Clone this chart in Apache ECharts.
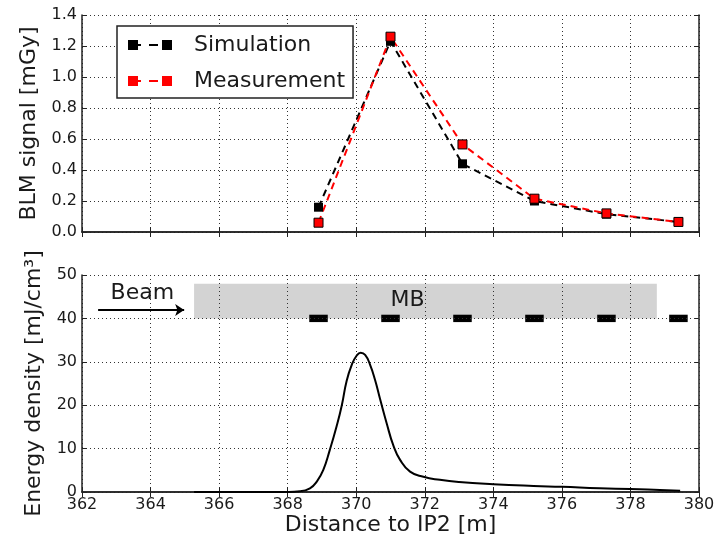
<!DOCTYPE html>
<html>
<head>
<meta charset="utf-8">
<script src="https://cdn.jsdelivr.net/npm/echarts@6/dist/echarts.min.js"></script>
<style>
html,body{margin:0;padding:0;background:#fff;}
#chart{width:723px;height:537px;}
</style>
</head>
<body>
<div id="chart"></div>
<script>
// ---- data ----
const blmPositions = [368.9, 371.0, 373.1, 375.2, 377.3, 379.4];
const simulation   = [0.16, 1.23, 0.44, 0.20, 0.115, 0.065];
const measurement  = [0.06, 1.26, 0.565, 0.215, 0.12, 0.065];

const energyX = [365.27, 367, 368, 368.36, 368.65, 368.85, 369.04, 369.23, 369.43, 369.58, 369.72, 369.87, 370.01, 370.13, 370.26, 370.40, 370.55, 370.69, 370.89, 371.08, 371.28, 371.57, 371.96, 372.44, 373.0, 374.0, 375.17, 376.0, 377.1, 378.0, 378.86, 379.45];
const energyY = [0, 0, 0.02, 0.15, 0.85, 2.4, 5.1, 9.7, 15.2, 20, 25.6, 29.3, 31.4, 32.1, 31.6, 29.4, 25.8, 21.6, 15.8, 10.8, 7.4, 4.7, 3.5, 2.8, 2.3, 1.8, 1.4, 1.2, 0.85, 0.7, 0.46, 0.3];

const mbRange = [365.27, 378.77];      // magnet extent (x)
const mbLevels = [40, 48];             // magnet box (y)
const blmBarHalfWidth = 0.27;
const blmBarLevels = [39.15, 40.85];
const beamArrow = [[362.47, 41.93], [364.98, 41.93]];
const annotationNames = ['Beam', 'MB'];
const annotationCoords = [[363.76, 45.85], [371.5, 44.2]];

const xTicks = [362, 380, 2];
const blmTicks = [0, 1.4, 0.2];
const energyTicks = [0, 50, 10];
const seriesNames = ['Simulation', 'Measurement'];

// ---- chart ----
const FONT = 'DejaVu Sans';
const TXT = '#1a1a1a';
const chart = echarts.init(document.getElementById('chart'));

const gridLine = {show: true, lineStyle: {color: '#333', type: [1, 3], width: 1}};
const frameLine = {show: true, lineStyle: {color: '#222', width: 1.5}};
const inTick = {show: true, inside: true, length: 5, lineStyle: {color: '#222', width: 1}};

function xAx(grid, pos, labels, split, extra) {
  return Object.assign({
    type: 'value', gridIndex: grid, position: pos,
    min: xTicks[0], max: xTicks[1], interval: xTicks[2],
    axisLine: frameLine, axisTick: inTick,
    axisLabel: {show: labels, fontFamily: FONT, fontSize: 16, color: TXT, margin: 5},
    splitLine: split ? gridLine : {show: false}
  }, extra || {});
}
function yAx(grid, pos, t, labels, split, extra) {
  return Object.assign({
    type: 'value', gridIndex: grid, position: pos,
    min: t[0], max: t[1], interval: t[2],
    axisLine: frameLine, axisTick: inTick,
    axisLabel: {show: labels, fontFamily: FONT, fontSize: 16, color: TXT, margin: 5,
      formatter: v => (t[2] < 1 ? v.toFixed(1) : String(v))},
    splitLine: split ? gridLine : {show: false}
  }, extra || {});
}

const legendIcon = 'path://M0,0H10V10H0Z M10,4H13V6H10Z M21,4H30V6H21Z M34,0H44V10H34Z';

const option = {
  animation: false,
  backgroundColor: '#fff',
  textStyle: {fontFamily: FONT},
  grid: [
    {left: 82, right: 24, top: 15, height: 217, show: false},
    {left: 82, right: 24, top: 275, height: 217, show: false}
  ],
  legend: {
    left: 117, top: 26, orient: 'vertical',
    padding: [7, 8, 5, 11], itemGap: 12,
    itemWidth: 44, itemHeight: 10, icon: legendIcon,
    borderColor: '#222', borderWidth: 1.5, backgroundColor: '#fff',
    textStyle: {fontFamily: FONT, fontSize: 22, color: TXT, padding: [0, 0, 0, 17], lineHeight: 24},
    data: [
      {name: seriesNames[0]},
      {name: seriesNames[1], itemStyle: {borderWidth: 0}}
    ],
    z: 10
  },
  xAxis: [
    xAx(0, 'bottom', false, true),
    xAx(0, 'top', false, false),
    xAx(1, 'bottom', true, true, {
      z: 3,
      name: 'Distance to IP2 [m]', nameLocation: 'middle', nameGap: 22,
      nameTextStyle: {fontFamily: FONT, fontSize: 22, color: TXT}
    }),
    xAx(1, 'top', false, false)
  ],
  yAxis: [
    yAx(0, 'left', blmTicks, true, true, {
      name: 'BLM signal [mGy]', nameLocation: 'middle', nameGap: 35,
      nameTextStyle: {fontFamily: FONT, fontSize: 22, color: TXT}
    }),
    yAx(0, 'right', blmTicks, false, false),
    yAx(1, 'left', energyTicks, true, true, {
      z: 3,
      name: 'Energy density [mJ/cm³]', nameLocation: 'middle', nameGap: 34,
      nameTextStyle: {fontFamily: FONT, fontSize: 22, color: TXT}
    }),
    yAx(1, 'right', energyTicks, false, false)
  ],
  series: [
    {
      name: seriesNames[0], type: 'line', xAxisIndex: 0, yAxisIndex: 0,
      data: blmPositions.map((x, i) => [x, simulation[i]]),
      symbol: 'rect', symbolSize: 9,
      itemStyle: {color: '#000'},
      lineStyle: {color: '#000', width: 2, type: [7, 5]}
    },
    {
      name: seriesNames[1], type: 'line', xAxisIndex: 0, yAxisIndex: 0,
      data: blmPositions.map((x, i) => [x, measurement[i]]),
      symbol: 'rect', symbolSize: 9,
      itemStyle: {color: '#ff0000', borderColor: '#000', borderWidth: 1},
      lineStyle: {color: '#ff0000', width: 2, type: [7, 5]}
    },
    {
      name: 'Energy density', type: 'line', xAxisIndex: 2, yAxisIndex: 2,
      data: energyX.map((x, i) => [x, energyY[i]]),
      showSymbol: false, smooth: 0.5,
      lineStyle: {color: '#000', width: 2},
      markArea: {
        silent: true,
        data: [
          [{coord: [mbRange[0], mbLevels[0]], itemStyle: {color: '#d3d3d3'}}, {coord: [mbRange[1], mbLevels[1]]}]
        ].concat(blmPositions.map(x => [
          {coord: [x - blmBarHalfWidth, blmBarLevels[0]], itemStyle: {color: '#000'}},
          {coord: [x + blmBarHalfWidth, blmBarLevels[1]]}
        ]))
      },
      markLine: {
        silent: true, symbol: ['none', 'arrow'], symbolSize: 9,
        label: {show: false},
        lineStyle: {color: '#000', width: 2, type: 'solid'},
        data: [[{coord: beamArrow[0]}, {coord: beamArrow[1]}]]
      },
      markPoint: {
        silent: true, symbol: 'circle', symbolSize: 1,
        itemStyle: {color: 'rgba(0,0,0,0)'},
        label: {show: true, position: 'inside', formatter: p => p.name,
          fontFamily: FONT, fontSize: 22, color: TXT},
        data: annotationNames.map((n, i) => ({name: n, coord: annotationCoords[i]}))
      }
    }
  ]
};
chart.setOption(option);
</script>
</body>
</html>
